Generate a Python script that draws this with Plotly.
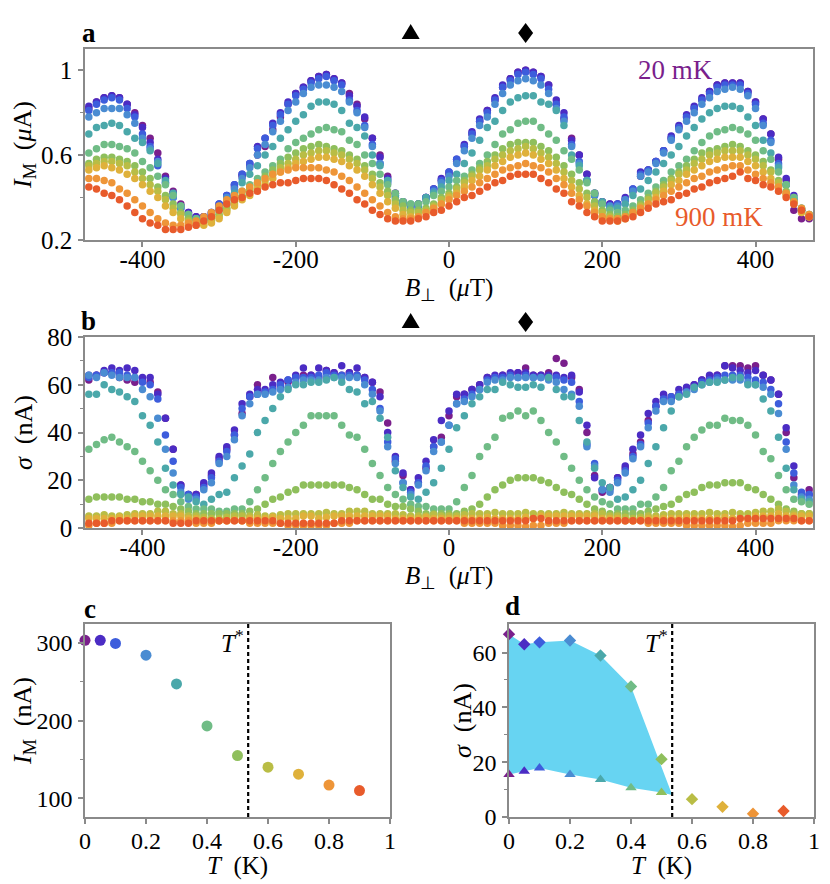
import plotly.graph_objects as go

W, H = 830, 884
OFF = 8  # page body margin around the plot div
FONT = "Liberation Serif"
GRAY = "#8a8a8a"

# magnetic field grid (uT)
B_field = [-470, -460, -450, -440, -430, -420, -410, -400, -390, -380,
           -370, -360, -350, -340, -330, -320, -310, -300, -290, -280,
           -270, -260, -250, -240, -230, -220, -210, -200, -190, -180,
           -170, -160, -150, -140, -130, -120, -110, -100, -90, -80,
           -70, -60, -50, -40, -30, -20, -10, 0, 10, 20,
           30, 40, 50, 60, 70, 80, 90, 100, 110, 120,
           130, 140, 150, 160, 170, 180, 190, 200, 210, 220,
           230, 240, 250, 260, 270, 280, 290, 300, 310, 320,
           330, 340, 350, 360, 370, 380, 390, 400, 410, 420,
           430, 440, 450, 460, 470]

temps_K = [0, 0.05, 0.1, 0.2, 0.3, 0.4, 0.5, 0.6, 0.7, 0.8, 0.9]
colors = ["#7a1f8c", "#4b2cc4", "#3d5ddc", "#4a8cd2", "#4ba8aa", "#70bc86",
          "#8fbf5c", "#b9bd45", "#dfb13b", "#ee9538", "#e85b2b"]

# panel a: I_M (uA)
im_20mK = [0.82, 0.85, 0.87, 0.88, 0.87, 0.84, 0.80, 0.74, 0.68, 0.61,
           0.50, 0.43, 0.37, 0.33, 0.31, 0.31, 0.32, 0.36, 0.40, 0.45,
           0.50, 0.55, 0.60, 0.64, 0.72, 0.78, 0.84, 0.89, 0.92, 0.95,
           0.97, 0.98, 0.96, 0.94, 0.89, 0.84, 0.77, 0.68, 0.60, 0.50,
           0.42, 0.38, 0.36, 0.37, 0.40, 0.44, 0.48, 0.51, 0.57, 0.64,
           0.70, 0.76, 0.81, 0.86, 0.92, 0.96, 0.99, 1.00, 0.99, 0.97,
           0.93, 0.84, 0.77, 0.68, 0.60, 0.51, 0.42, 0.38, 0.37, 0.37,
           0.39, 0.43, 0.50, 0.53, 0.57, 0.62, 0.68, 0.73, 0.78, 0.82,
           0.86, 0.90, 0.93, 0.94, 0.94, 0.94, 0.90, 0.85, 0.77, 0.70,
           0.58, 0.48, 0.34, 0.30, 0.30]
im_50mK = [0.83, 0.85, 0.87, 0.88, 0.87, 0.84, 0.79, 0.73, 0.66, 0.58,
           0.49, 0.42, 0.36, 0.33, 0.31, 0.31, 0.33, 0.37, 0.41, 0.46,
           0.51, 0.56, 0.64, 0.68, 0.75, 0.80, 0.85, 0.89, 0.92, 0.95,
           0.97, 0.98, 0.96, 0.94, 0.88, 0.83, 0.78, 0.68, 0.59, 0.49,
           0.42, 0.38, 0.36, 0.37, 0.40, 0.44, 0.49, 0.52, 0.58, 0.65,
           0.71, 0.77, 0.81, 0.87, 0.93, 0.96, 0.99, 1.00, 0.99, 0.97,
           0.93, 0.86, 0.80, 0.67, 0.60, 0.51, 0.42, 0.38, 0.37, 0.37,
           0.40, 0.44, 0.52, 0.53, 0.57, 0.62, 0.69, 0.74, 0.79, 0.83,
           0.87, 0.90, 0.93, 0.94, 0.94, 0.94, 0.90, 0.85, 0.77, 0.70,
           0.59, 0.49, 0.41, 0.34, 0.31]
im_100mK = [0.81, 0.84, 0.86, 0.87, 0.86, 0.82, 0.78, 0.70, 0.64, 0.55,
            0.47, 0.40, 0.35, 0.32, 0.30, 0.31, 0.33, 0.37, 0.41, 0.46,
            0.51, 0.56, 0.63, 0.68, 0.74, 0.79, 0.84, 0.88, 0.91, 0.94,
            0.96, 0.97, 0.95, 0.93, 0.86, 0.81, 0.74, 0.65, 0.56, 0.47,
            0.40, 0.37, 0.35, 0.36, 0.40, 0.44, 0.48, 0.52, 0.58, 0.64,
            0.70, 0.76, 0.80, 0.86, 0.92, 0.95, 0.98, 0.99, 0.98, 0.96,
            0.91, 0.84, 0.78, 0.65, 0.57, 0.48, 0.41, 0.37, 0.36, 0.37,
            0.39, 0.44, 0.51, 0.53, 0.57, 0.62, 0.68, 0.73, 0.78, 0.82,
            0.86, 0.89, 0.92, 0.93, 0.93, 0.93, 0.89, 0.84, 0.75, 0.67,
            0.56, 0.46, 0.39, 0.34, 0.31]
im_200mK = [0.78, 0.80, 0.82, 0.82, 0.82, 0.79, 0.75, 0.68, 0.63, 0.57,
            0.47, 0.40, 0.35, 0.32, 0.30, 0.30, 0.32, 0.36, 0.40, 0.44,
            0.49, 0.54, 0.60, 0.65, 0.71, 0.76, 0.81, 0.85, 0.89, 0.92,
            0.93, 0.93, 0.92, 0.90, 0.85, 0.80, 0.73, 0.64, 0.56, 0.48,
            0.41, 0.37, 0.35, 0.36, 0.39, 0.43, 0.47, 0.50, 0.56, 0.62,
            0.68, 0.74, 0.78, 0.84, 0.89, 0.93, 0.95, 0.96, 0.95, 0.93,
            0.89, 0.82, 0.76, 0.64, 0.56, 0.48, 0.41, 0.37, 0.36, 0.36,
            0.39, 0.43, 0.50, 0.52, 0.56, 0.61, 0.67, 0.72, 0.76, 0.80,
            0.84, 0.87, 0.90, 0.91, 0.92, 0.91, 0.88, 0.82, 0.74, 0.66,
            0.55, 0.46, 0.39, 0.34, 0.31]
im_300mK = [0.70, 0.73, 0.74, 0.75, 0.74, 0.71, 0.68, 0.66, 0.62, 0.56,
            0.48, 0.42, 0.36, 0.32, 0.30, 0.30, 0.32, 0.35, 0.39, 0.42,
            0.47, 0.51, 0.55, 0.60, 0.64, 0.68, 0.72, 0.76, 0.79, 0.83,
            0.85, 0.85, 0.84, 0.81, 0.75, 0.73, 0.69, 0.60, 0.55, 0.48,
            0.41, 0.38, 0.37, 0.37, 0.40, 0.42, 0.45, 0.48, 0.51, 0.56,
            0.61, 0.67, 0.73, 0.76, 0.81, 0.85, 0.87, 0.88, 0.88, 0.85,
            0.84, 0.81, 0.74, 0.60, 0.55, 0.48, 0.42, 0.38, 0.35, 0.35,
            0.37, 0.41, 0.44, 0.48, 0.52, 0.56, 0.60, 0.64, 0.69, 0.73,
            0.77, 0.80, 0.82, 0.83, 0.83, 0.82, 0.78, 0.74, 0.67, 0.61,
            0.54, 0.46, 0.40, 0.35, 0.32]
im_400mK = [0.61, 0.63, 0.65, 0.65, 0.64, 0.63, 0.61, 0.57, 0.54, 0.50,
            0.46, 0.41, 0.36, 0.32, 0.30, 0.30, 0.31, 0.34, 0.37, 0.40,
            0.43, 0.46, 0.49, 0.52, 0.55, 0.58, 0.63, 0.66, 0.68, 0.70,
            0.72, 0.73, 0.72, 0.71, 0.67, 0.65, 0.60, 0.56, 0.51, 0.46,
            0.42, 0.38, 0.37, 0.37, 0.38, 0.41, 0.43, 0.45, 0.48, 0.50,
            0.53, 0.56, 0.60, 0.65, 0.70, 0.72, 0.75, 0.76, 0.76, 0.73,
            0.70, 0.67, 0.62, 0.58, 0.53, 0.47, 0.42, 0.37, 0.34, 0.33,
            0.34, 0.36, 0.39, 0.42, 0.45, 0.48, 0.52, 0.55, 0.58, 0.62,
            0.66, 0.69, 0.71, 0.72, 0.73, 0.72, 0.70, 0.67, 0.62, 0.58,
            0.52, 0.46, 0.40, 0.35, 0.32]
im_500mK = [0.56, 0.58, 0.59, 0.59, 0.58, 0.57, 0.55, 0.52, 0.49, 0.45,
            0.41, 0.37, 0.33, 0.30, 0.29, 0.29, 0.30, 0.32, 0.35, 0.38,
            0.41, 0.44, 0.47, 0.50, 0.53, 0.56, 0.59, 0.61, 0.63, 0.64,
            0.65, 0.64, 0.63, 0.62, 0.60, 0.58, 0.55, 0.51, 0.47, 0.43,
            0.39, 0.36, 0.34, 0.34, 0.35, 0.37, 0.40, 0.42, 0.45, 0.48,
            0.51, 0.54, 0.57, 0.60, 0.63, 0.65, 0.66, 0.66, 0.66, 0.64,
            0.62, 0.59, 0.55, 0.51, 0.47, 0.42, 0.38, 0.34, 0.32, 0.31,
            0.32, 0.34, 0.37, 0.40, 0.43, 0.46, 0.49, 0.52, 0.55, 0.58,
            0.61, 0.62, 0.63, 0.64, 0.65, 0.64, 0.62, 0.60, 0.57, 0.53,
            0.48, 0.43, 0.38, 0.34, 0.31]
im_600mK = [0.55, 0.56, 0.57, 0.57, 0.56, 0.55, 0.52, 0.49, 0.46, 0.43,
            0.39, 0.35, 0.32, 0.29, 0.28, 0.28, 0.29, 0.31, 0.34, 0.37,
            0.40, 0.43, 0.46, 0.48, 0.51, 0.54, 0.56, 0.58, 0.60, 0.61,
            0.62, 0.62, 0.61, 0.60, 0.58, 0.56, 0.53, 0.49, 0.45, 0.41,
            0.37, 0.34, 0.33, 0.33, 0.34, 0.36, 0.39, 0.41, 0.44, 0.47,
            0.50, 0.53, 0.55, 0.58, 0.60, 0.62, 0.63, 0.64, 0.63, 0.61,
            0.59, 0.56, 0.52, 0.48, 0.44, 0.40, 0.36, 0.33, 0.31, 0.30,
            0.31, 0.33, 0.36, 0.39, 0.42, 0.45, 0.48, 0.51, 0.53, 0.56,
            0.58, 0.60, 0.61, 0.62, 0.62, 0.62, 0.60, 0.58, 0.55, 0.52,
            0.47, 0.42, 0.38, 0.34, 0.31]
im_700mK = [0.53, 0.54, 0.55, 0.54, 0.53, 0.51, 0.49, 0.46, 0.43, 0.40,
            0.36, 0.33, 0.30, 0.28, 0.27, 0.27, 0.28, 0.30, 0.33, 0.36,
            0.39, 0.41, 0.44, 0.46, 0.49, 0.52, 0.54, 0.56, 0.57, 0.58,
            0.59, 0.59, 0.58, 0.57, 0.55, 0.53, 0.50, 0.46, 0.42, 0.38,
            0.35, 0.32, 0.31, 0.31, 0.33, 0.35, 0.37, 0.40, 0.42, 0.45,
            0.48, 0.50, 0.53, 0.55, 0.57, 0.59, 0.60, 0.61, 0.60, 0.58,
            0.56, 0.53, 0.49, 0.45, 0.41, 0.37, 0.34, 0.31, 0.30, 0.29,
            0.30, 0.32, 0.35, 0.37, 0.40, 0.43, 0.46, 0.48, 0.51, 0.53,
            0.55, 0.57, 0.58, 0.59, 0.59, 0.59, 0.57, 0.55, 0.52, 0.49,
            0.45, 0.41, 0.37, 0.33, 0.31]
im_800mK = [0.49, 0.49, 0.48, 0.47, 0.44, 0.42, 0.39, 0.36, 0.33, 0.30,
            0.28, 0.27, 0.27, 0.28, 0.29, 0.31, 0.33, 0.36, 0.39, 0.41,
            0.43, 0.45, 0.47, 0.49, 0.51, 0.52, 0.53, 0.54, 0.54, 0.54,
            0.54, 0.53, 0.52, 0.50, 0.48, 0.45, 0.42, 0.39, 0.36, 0.33,
            0.31, 0.30, 0.30, 0.31, 0.33, 0.35, 0.37, 0.39, 0.41, 0.43,
            0.45, 0.47, 0.49, 0.51, 0.53, 0.54, 0.55, 0.56, 0.55, 0.54,
            0.52, 0.49, 0.46, 0.42, 0.39, 0.36, 0.33, 0.31, 0.30, 0.30,
            0.31, 0.33, 0.35, 0.37, 0.39, 0.41, 0.43, 0.45, 0.47, 0.49,
            0.50, 0.52, 0.53, 0.54, 0.55, 0.55, 0.53, 0.51, 0.49, 0.47,
            0.45, 0.42, 0.38, 0.35, 0.32]
im_900mK = [0.45, 0.44, 0.42, 0.41, 0.39, 0.36, 0.33, 0.30, 0.28, 0.27,
            0.25, 0.25, 0.25, 0.26, 0.27, 0.29, 0.31, 0.34, 0.37, 0.39,
            0.40, 0.42, 0.43, 0.45, 0.46, 0.47, 0.47, 0.48, 0.49, 0.49,
            0.49, 0.48, 0.46, 0.44, 0.42, 0.39, 0.37, 0.34, 0.32, 0.30,
            0.29, 0.29, 0.29, 0.30, 0.31, 0.33, 0.34, 0.36, 0.38, 0.40,
            0.41, 0.43, 0.45, 0.47, 0.48, 0.50, 0.51, 0.51, 0.51, 0.49,
            0.47, 0.44, 0.42, 0.38, 0.36, 0.33, 0.31, 0.29, 0.29, 0.29,
            0.30, 0.31, 0.33, 0.35, 0.37, 0.38, 0.39, 0.41, 0.42, 0.44,
            0.45, 0.47, 0.48, 0.49, 0.50, 0.52, 0.49, 0.48, 0.46, 0.45,
            0.43, 0.40, 0.37, 0.34, 0.31]

# panel b: sigma (nA)
sig_20mK = [62, 64, 65, 65, 63, 62, 61, 62, 61, 57,
            46, 33, 18, 14, 14, 18, 22, 29, 33, 39,
            48, 55, 60, 57, 63, 59, 61, 63, 64, 64,
            63, 66, 65, 64, 65, 64, 63, 61, 57, 44,
            28, 22, 16, 19, 25, 34, 38, 47, 55, 56,
            58, 60, 63, 63, 64, 64, 65, 67, 64, 64,
            65, 71, 69, 63, 58, 40, 22, 15, 17, 21,
            25, 31, 36, 45, 51, 54, 55, 56, 58, 60,
            62, 63, 64, 68, 68, 68, 67, 68, 64, 62,
            56, 40, 21, 14, 16]
sig_50mK = [64, 64, 66, 67, 66, 67, 66, 63, 63, 56,
            46, 33, 18, 14, 14, 19, 23, 30, 34, 41,
            52, 56, 58, 58, 60, 61, 62, 64, 67, 64,
            67, 66, 65, 68, 65, 67, 63, 61, 55, 40,
            30, 23, 16, 21, 28, 37, 45, 49, 56, 56,
            58, 60, 63, 64, 64, 65, 65, 65, 64, 64,
            64, 64, 63, 64, 57, 43, 21, 16, 17, 21,
            26, 33, 39, 48, 53, 56, 54, 58, 59, 60,
            62, 64, 64, 68, 67, 66, 65, 66, 64, 62,
            56, 42, 26, 13, 14]
sig_100mK = [63, 64, 65, 65, 65, 64, 63, 61, 60, 54,
             39, 28, 17, 14, 13, 17, 21, 28, 32, 39,
             50, 55, 56, 57, 58, 60, 62, 63, 63, 63,
             64, 65, 64, 64, 64, 64, 62, 58, 50, 36,
             29, 19, 15, 19, 26, 34, 36, 43, 52, 54,
             56, 58, 62, 63, 63, 64, 63, 64, 63, 63,
             63, 63, 62, 61, 53, 35, 27, 16, 16, 20,
             24, 30, 35, 44, 51, 54, 55, 56, 57, 59,
             61, 62, 63, 64, 64, 64, 63, 62, 61, 58,
             52, 36, 23, 15, 14]
sig_200mK = [64, 63, 65, 64, 63, 63, 63, 58, 55, 46,
             33, 23, 15, 12, 12, 16, 19, 27, 30, 37,
             47, 52, 56, 56, 57, 58, 59, 61, 62, 62,
             62, 63, 63, 63, 63, 63, 60, 56, 49, 34,
             27, 19, 14, 18, 24, 32, 36, 43, 52, 53,
             55, 58, 61, 62, 62, 63, 63, 63, 63, 63,
             62, 61, 58, 56, 51, 34, 26, 16, 15, 19,
             23, 29, 34, 42, 49, 53, 53, 55, 57, 58,
             60, 61, 62, 62, 62, 62, 61, 60, 59, 56,
             48, 33, 18, 13, 12]
sig_300mK = [56, 56, 60, 58, 57, 55, 53, 47, 43, 36,
             25, 18, 14, 13, 11, 10, 12, 14, 15, 21,
             26, 31, 40, 45, 50, 55, 58, 60, 60, 61,
             61, 62, 63, 61, 58, 57, 52, 53, 46, 38,
             24, 17, 13, 12, 15, 19, 25, 33, 42, 47,
             52, 55, 58, 58, 61, 60, 59, 59, 60, 59,
             63, 58, 55, 55, 45, 36, 25, 19, 17, 12,
             13, 16, 20, 27, 34, 42, 49, 55, 56, 59,
             60, 61, 61, 62, 63, 63, 60, 60, 54, 49,
             38, 25, 16, 12, 11]
sig_400mK = [33, 35, 37, 38, 36, 34, 32, 28, 24, 20,
             16, 14, 11, 9, 8, 8, 8, 7, 7, 8,
             8, 11, 16, 21, 27, 32, 36, 40, 43, 47,
             47, 47, 47, 43, 39, 38, 33, 27, 22, 17,
             14, 12, 10, 9, 9, 8, 8, 8, 11, 17,
             22, 30, 34, 38, 46, 47, 49, 47, 49, 45,
             40, 36, 30, 25, 20, 16, 13, 11, 10, 8,
             8, 8, 10, 10, 13, 17, 24, 28, 34, 38,
             41, 43, 43, 46, 45, 45, 43, 39, 32, 29,
             22, 16, 12, 11, 10]
sig_500mK = [12, 13, 13, 13, 13, 12, 12, 11, 11, 10,
             10, 9, 8, 7, 6, 6, 6, 6, 6, 6,
             6, 7, 8, 10, 12, 13, 15, 16, 18, 18,
             18, 18, 18, 18, 17, 16, 14, 12, 12, 10,
             9, 9, 8, 7, 6, 6, 6, 6, 6, 7,
             8, 10, 13, 16, 18, 20, 21, 21, 21, 20,
             19, 17, 15, 14, 12, 10, 8, 7, 6, 6,
             6, 6, 6, 7, 8, 9, 10, 12, 14, 15,
             17, 18, 18, 19, 19, 19, 17, 16, 14, 12,
             10, 8, 7, 6, 6]
sig_600mK = [5, 5, 5.5, 5, 5, 5.5, 6, 6, 6, 7,
             7, 6, 6, 5, 5, 4.5, 4, 4, 4.5, 5,
             5, 5, 5.5, 5, 5, 5.5, 6, 6, 6, 6,
             6, 6.5, 6, 6, 7, 7, 7, 6, 6, 6,
             6, 5.5, 5, 5, 5, 5.5, 5, 5, 5, 5.5,
             6, 6, 6, 6.5, 6, 6, 6, 6.5, 6, 6,
             6, 6, 6.5, 6, 6, 6, 6, 6, 5, 5,
             4.5, 4, 4.5, 5, 5, 5.5, 6, 6, 6, 6,
             6, 6.5, 6, 6, 6.5, 6, 6, 6.5, 7, 7,
             8, 7, 6, 6, 6]
sig_700mK = [4, 4, 4, 4, 4.5, 4, 5, 5, 5, 5,
             5, 5, 5, 4, 4, 3.5, 3, 3, 3, 3.5,
             3, 4, 4, 4, 4.5, 4, 4, 4, 5, 5,
             4, 4.5, 5, 5, 5, 5, 5, 5, 5, 5,
             4, 4, 4, 4, 4.5, 4, 4, 4, 4, 4,
             4, 4, 4.5, 4, 4, 4, 4, 4.5, 4, 5,
             5, 5, 5, 5, 5, 5, 5, 4, 4, 4,
             3, 3, 3.5, 4, 4, 4, 4, 4, 4.5, 4,
             4, 4, 4, 4.5, 4, 4, 4, 5, 5, 5,
             6, 5, 5, 5, 5]
sig_800mK = [1, 2, 2, 2, 3, 3, 3, 3, 3, 3,
             3, 3, 3, 3, 2, 2, 2, 3, 3, 3,
             3, 2, 2, 2, 2, 2, 1, 1, 1, 1,
             1, 1, 2, 2, 2, 3, 3, 3, 3, 3,
             3, 3, 3, 3, 3, 3, 3, 3, 3, 2,
             2, 2, 2, 2, 1, 1, 1, 0.5, 1, 1,
             2, 2, 2, 3, 3, 3, 3, 3, 3, 3,
             3, 3, 3, 2, 2, 2, 2, 2, 1, 1,
             1, 1, 1, 1, 0.5, 1, 2, 2, 2, 2,
             3, 3, 3, 3, 3]
sig_900mK = [2, 2, 2, 3, 3, 3, 3, 3, 3, 3,
             3, 2, 2, 2, 3, 3, 3, 3, 3, 3,
             3, 3, 3, 3, 3, 2, 2, 2, 2, 2,
             2, 2, 2, 3, 3, 3, 3, 3, 3, 3,
             3, 3, 3, 3, 3, 3, 3, 3, 3, 3,
             3, 3, 3, 3, 3, 3, 3, 3, 4, 4,
             3, 3, 3, 3, 3, 3, 3, 3, 3, 3,
             3, 3, 3, 3, 3, 3, 3, 3, 3, 3,
             3, 3, 3, 3, 3, 4, 4, 4, 4, 4,
             4, 4, 4, 3, 3]

im_all = [im_20mK, im_50mK, im_100mK, im_200mK, im_300mK, im_400mK,
          im_500mK, im_600mK, im_700mK, im_800mK, im_900mK]
sig_all = [sig_20mK, sig_50mK, sig_100mK, sig_200mK, sig_300mK, sig_400mK,
           sig_500mK, sig_600mK, sig_700mK, sig_800mK, sig_900mK]

# panel c: peak I_M vs T (nA)
im_peak_nA = [303, 303, 299, 284, 247, 193, 155, 140, 131, 117, 110]
# panel d: sigma at the two cuts (nA)
sig_diamond = [66.7, 63.0, 63.7, 64.4, 58.9, 47.6, 21.1, 6.5, 3.7, 1.2, 2.2]
sig_triangle = [15.5, 16.7, 17.9, 15.5, 13.7, 10.7, 8.9]
T_star = 0.535
sig_at_T_star = 8.0
cut_B = [-50, 100]


def px_x(p):
    return (p - OFF) / W


def px_y(p):
    return 1 - (p - OFF) / H


def xd(p0, p1):
    return [px_x(p0), px_x(p1)]


def yd(p_top, p_bot):
    return [px_y(p_bot), px_y(p_top)]


def axis(size=25, **kw):
    d = dict(showline=True, linecolor=GRAY, linewidth=1.5, mirror=True,
             ticks="outside", ticklen=5, tickwidth=1.5, tickcolor=GRAY,
             showgrid=False, zeroline=False, automargin=False,
             tickfont=dict(family=FONT, size=size, color="black"))
    d.update(kw)
    return d


def minor(vals):
    return dict(tickvals=vals, ticks="outside", ticklen=3, tickwidth=1.2,
                tickcolor=GRAY, showgrid=False)


fig = go.Figure()

for ys, col in zip(im_all, colors):
    fig.add_trace(go.Scatter(x=B_field, y=ys, mode="markers",
                             marker=dict(size=7.5, color=col),
                             xaxis="x", yaxis="y", showlegend=False))
for ys, col in zip(sig_all, colors):
    fig.add_trace(go.Scatter(x=B_field, y=ys, mode="markers",
                             marker=dict(size=7.5, color=col),
                             xaxis="x2", yaxis="y2", showlegend=False))

# panel c
fig.add_trace(go.Scatter(x=temps_K, y=im_peak_nA, mode="markers",
                         marker=dict(size=11, color=colors),
                         xaxis="x3", yaxis="y3", cliponaxis=False,
                         showlegend=False))

# panel d
n_tri = len(sig_triangle)
fill_x = temps_K[:6] + [T_star] + temps_K[:n_tri][::-1]
fill_y = sig_diamond[:6] + [sig_at_T_star] + sig_triangle[::-1]
fig.add_trace(go.Scatter(x=fill_x, y=fill_y, fill="toself", mode="lines",
                         fillcolor="#67d4f2", line=dict(width=0),
                         xaxis="x4", yaxis="y4", showlegend=False))
fig.add_trace(go.Scatter(x=temps_K[:n_tri], y=sig_triangle, mode="markers",
                         marker=dict(symbol="triangle-up", size=10,
                                     color=colors[:n_tri]),
                         xaxis="x4", yaxis="y4", cliponaxis=False,
                         showlegend=False))
fig.add_trace(go.Scatter(x=temps_K, y=sig_diamond, mode="markers",
                         marker=dict(symbol="diamond", size=9.5, color=colors),
                         xaxis="x4", yaxis="y4", cliponaxis=False,
                         showlegend=False))

for xr, yr in [("x3", "y3"), ("x4", "y4")]:
    fig.add_shape(type="line", xref=xr, yref=yr + " domain",
                  x0=T_star, x1=T_star, y0=0, y1=1,
                  line=dict(color="black", width=2.2, dash="4px,3px"))

# cut markers (triangle / diamond) above panels a and b
TRI = "M-9,-6 L9,-6 L0,9 Z"
DIA = "M0,10 L7.5,0 L0,-10 L-7.5,0 Z"
for xr, y_px in [("x", 33), ("x2", 322)]:
    for b_cut, path in zip(cut_B, [TRI, DIA]):
        fig.add_shape(type="path", xref=xr, yref="paper",
                      xsizemode="pixel", ysizemode="pixel",
                      xanchor=b_cut, yanchor=px_y(y_px), path=path,
                      fillcolor="black", line=dict(width=0))

B_ticks = [-400, -200, 0, 200, 400]
B_text = ["-400", "-200", "0", "200", "400"]
T_ticks = [0, 0.2, 0.4, 0.6, 0.8, 1]
T_text = ["0", "0.2", "0.4", "0.6", "0.8", "1"]

fig.update_layout(
    width=W, height=H,
    margin=dict(l=0, r=0, t=0, b=0),
    paper_bgcolor="white", plot_bgcolor="white",
    font=dict(family=FONT, color="black"),
    xaxis=axis(domain=xd(85, 813), anchor="y", range=[-475, 475],
               tickvals=B_ticks, ticktext=B_text, ticklabelstandoff=-9),
    yaxis=axis(domain=yd(49, 240), anchor="x", range=[0.2, 1.1],
               tickvals=[0.2, 0.6, 1.0], ticktext=["0.2", "0.6", "1"],
               minor=minor([0.4, 0.8]), ticklabelstandoff=1),
    xaxis2=axis(domain=xd(85, 813), anchor="y2", range=[-475, 475],
                tickvals=B_ticks, ticktext=B_text, ticklabelstandoff=-9),
    yaxis2=axis(domain=yd(337, 528), anchor="x2", range=[0, 80],
                tickvals=[0, 20, 40, 60, 80], minor=minor([10, 30, 50, 70]),
                ticklabelstandoff=1),
    xaxis3=axis(size=24, domain=xd(85, 390), anchor="y3", range=[0, 1],
                tickvals=T_ticks, ticktext=T_text, ticklabelstandoff=-4),
    yaxis3=axis(size=24, domain=yd(624, 817), anchor="x3", range=[76, 324],
                tickvals=[100, 200, 300], minor=minor([150, 250]),
                ticklabelstandoff=1),
    xaxis4=axis(size=24, domain=xd(509, 814), anchor="y4", range=[0, 1],
                tickvals=T_ticks, ticktext=T_text, ticklabelstandoff=-4),
    yaxis4=axis(size=24, domain=yd(624, 817), anchor="x4", range=[0, 70.4],
                tickvals=[0, 20, 40, 60], minor=minor([10, 30, 50]),
                ticklabelstandoff=1),
)


def label(text, x, y, size=26, angle=0, color="black"):
    fig.add_annotation(text=text, x=px_x(x), y=px_y(y), xref="paper",
                       yref="paper", xanchor="center", yanchor="middle",
                       showarrow=False, textangle=angle,
                       font=dict(family=FONT, size=size, color=color))


# panel letters
label("<b>a</b>", 89, 33, size=27)
label("<b>b</b>", 88, 321, size=27)
label("<b>c</b>", 90, 609, size=27)
label("<b>d</b>", 512, 606, size=27)

# axis titles
label("<i>B</i><sub>⊥</sub>  (<i>μ</i>T)", 449, 289, size=25)
label("<i>B</i><sub>⊥</sub>  (<i>μ</i>T)", 449, 577, size=25)
label("<i>T</i>  (K)", 237, 866, size=25)
label("<i>T</i>  (K)", 661, 866, size=25)
label("<i>I</i><sub>M</sub>  (<i>μ</i>A)", 24, 145, angle=-90)
label("<i>σ</i>  (nA)", 23, 433, angle=-90)
label("<i>I</i><sub>M</sub>  (nA)", 24, 721, angle=-90)
label("<i>σ</i>  (nA)", 462, 721, angle=-90)

# T* markers
for xr, yr in [("x3", "y3"), ("x4", "y4")]:
    fig.add_annotation(text="<i>T</i><sup>*</sup>", x=T_star, y=0.91,
                       xref=xr, yref=yr + " domain", xanchor="right",
                       yanchor="middle", xshift=-2, showarrow=False,
                       font=dict(family=FONT, size=25, color="black"))

# temperature labels in panel a
fig.add_annotation(text="20 mK", x=295, y=1.0, xref="x", yref="y",
                   xanchor="center", yanchor="middle", showarrow=False,
                   font=dict(family=FONT, size=27, color=colors[0]))
fig.add_annotation(text="900 mK", x=352, y=0.307, xref="x", yref="y",
                   xanchor="center", yanchor="middle", showarrow=False,
                   font=dict(family=FONT, size=27, color=colors[-1]))

fig.write_html("out.html")
